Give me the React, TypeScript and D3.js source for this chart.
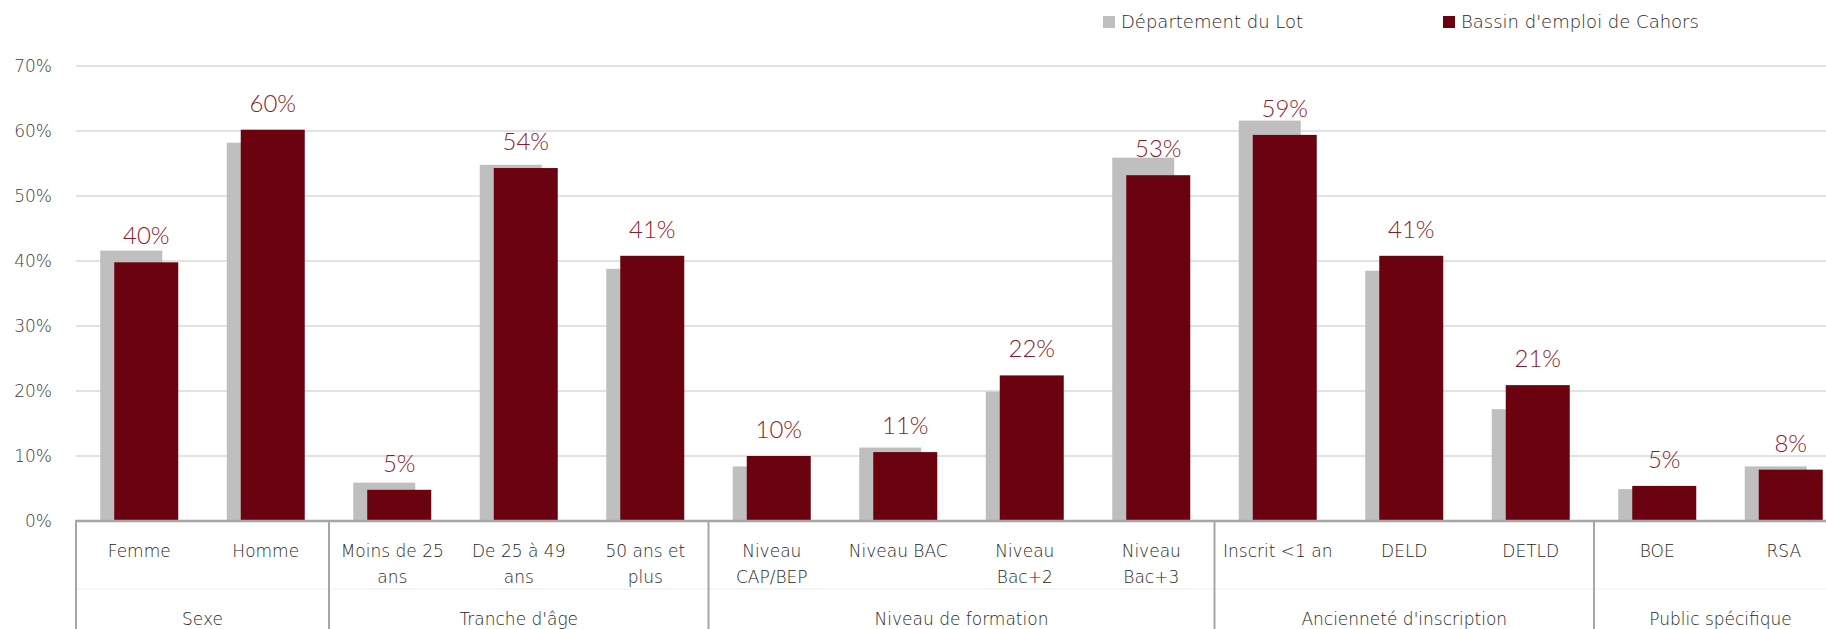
import * as d3 from 'd3';

// categories, one entry per bar group (label lines)
const categories: string[][] = [
  ['Femme'], ['Homme'],
  ['Moins de 25', 'ans'], ['De 25 à 49', 'ans'], ['50 ans et', 'plus'],
  ['Niveau', 'CAP/BEP'], ['Niveau BAC'], ['Niveau', 'Bac+2'], ['Niveau', 'Bac+3'],
  ['Inscrit <1 an'], ['DELD'], ['DETLD'],
  ['BOE'], ['RSA'],
];
const groups = ['Sexe', "Tranche d'âge", 'Niveau de formation', "Ancienneté d'inscription", 'Public spécifique'];
const groupSizes = [2, 3, 4, 3, 2];

const departement = [41.6, 58.2, 5.9, 54.8, 38.8, 8.4, 11.3, 19.9, 55.9, 61.6, 38.5, 17.2, 4.9, 8.4];
const bassin = [39.8, 60.2, 4.8, 54.3, 40.8, 10.0, 10.6, 22.4, 53.2, 59.4, 40.8, 20.9, 5.4, 7.9];

const yTicks = [0, 10, 20, 30, 40, 50, 60, 70];
const seriesNames = ['Département du Lot', "Bassin d'emploi de Cahors"];

const W = 1826;
const H = 629;
const GRAY = '#BFBFBF';
const RED = '#6B0210';
const LABEL_RED = '#8B1A2B';
const FONT = '"DejaVu Sans", sans-serif';

export default function App() {
  const x = d3.scaleBand<number>()
    .domain(categories.map((_, i) => i))
    .range([76, 1847])
    .padding(0);
  const y = d3.scaleLinear().domain([0, 70]).range([521, 66]);
  const bw = x.bandwidth();

  // group boundaries
  const bounds: number[] = [];
  let acc = 0;
  groupSizes.forEach((n) => { bounds.push(acc); acc += n; });

  return (
    <svg width={W} height={H} style={{ position: 'absolute', left: 0, top: 0, background: '#fff' }}>
      {/* gridlines */}
      {yTicks.map((t) => (
        <g key={t}>
          {t > 0 && (
            <line x1={76} x2={W} y1={y(t)} y2={y(t)} stroke="#D9D9D9" strokeWidth={1.5} />
          )}
          <text x={52} y={y(t)} dy="0.35em" textAnchor="end" fontFamily={FONT} fontWeight={300}
            fontSize={17} fill="#404040">{t}%</text>
        </g>
      ))}

      {/* bars */}
      {departement.map((v, i) => {
        const c = (x(i) || 0) + bw / 2;
        return <rect key={'g' + i} x={c - 39} width={62} y={y(v)} height={y(0) - y(v)} fill={GRAY} />;
      })}
      {bassin.map((v, i) => {
        const c = (x(i) || 0) + bw / 2;
        return (
          <g key={'r' + i}>
            <rect x={c - 25} width={64} y={y(v)} height={y(0) - y(v)} fill={RED} />
            <text x={c + 7} y={y(v) - 18} textAnchor="middle" fontFamily="Lato, sans-serif" fontWeight={300}
              fontSize={24} fill={LABEL_RED}>{Math.round(v)}%</text>
          </g>
        );
      })}

      {/* faint level separator */}
      <line x1={76} x2={W} y1={589} y2={589} stroke="#EEEEEE" strokeWidth={1} />

      {/* axis line */}
      <line x1={75} x2={W} y1={521} y2={521} stroke="#A6A6A6" strokeWidth={2.5} />

      {/* group separators */}
      {[...bounds, acc].map((b, i) => {
        const xx = b === 0 ? 76 : (x(b) ?? 1847);
        return <line key={'s' + i} x1={xx} x2={xx} y1={521} y2={H} stroke="#A6A6A6" strokeWidth={2} />;
      })}

      {/* category labels */}
      {categories.map((lines, i) => {
        const c = (x(i) || 0) + bw / 2;
        return (
          <text key={'c' + i} textAnchor="middle" fontFamily={FONT} fontWeight={300} fontSize={17} fill="#262626">
            {lines.map((l, j) => (
              <tspan key={j} x={c} y={557 + j * 26}>{l}</tspan>
            ))}
          </text>
        );
      })}

      {/* group labels */}
      {groups.map((g, i) => {
        const start = x(bounds[i]) || 0;
        const mid = start + (groupSizes[i] * bw) / 2;
        return (
          <text key={'gr' + i} x={mid} y={625} textAnchor="middle" fontFamily={FONT} fontWeight={300}
            fontSize={17} fill="#262626">{g}</text>
        );
      })}

      {/* legend */}
      {seriesNames.map((s, i) => {
        const lx = i === 0 ? 1103 : 1443;
        return (
          <g key={'l' + i}>
            <rect x={lx} y={16} width={12} height={12} fill={i === 0 ? GRAY : RED} />
            <text x={lx + 18} y={22} dy="0.35em" fontFamily={FONT} fontWeight={300} fontSize={18}
              fill="#262626">{s}</text>
          </g>
        );
      })}
    </svg>
  );
}
